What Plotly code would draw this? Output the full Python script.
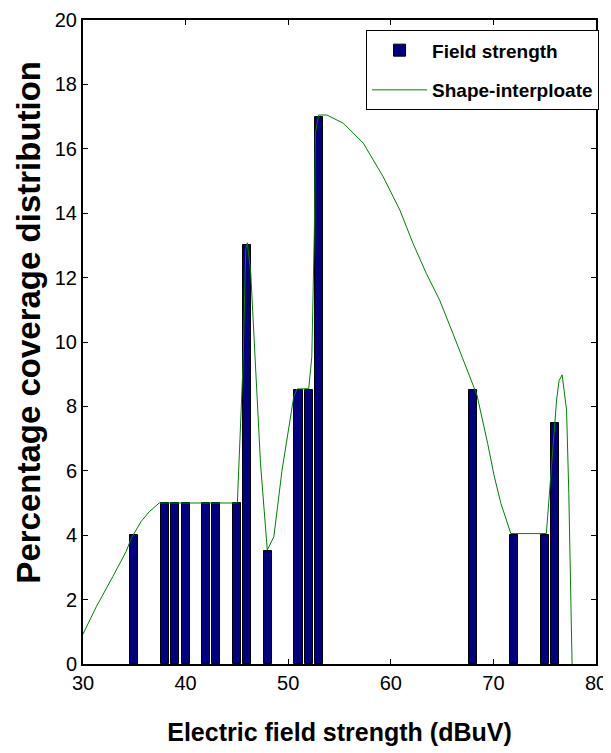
import plotly.graph_objects as go

# Bar data (histogram of electric field strength)
bar_x = [35, 38, 39, 40, 42, 43, 45, 46, 48, 51, 52, 53, 68, 72, 75, 76]
bar_y = [4, 5, 5, 5, 5, 5, 5, 13, 3.5, 8.5, 8.5, 17, 8.5, 4, 4, 7.5]

# Shape-interpolated curve
curve_x = [30, 31.3, 32.9, 34.2, 34.7, 35.65, 36.46, 37.43, 38.0, 44.9, 45.05, 45.6,
           45.86, 46.02, 46.35, 46.83, 47.3, 47.96, 48.6, 49.4, 50.06, 50.54, 50.86,
           52.0, 52.3, 52.55, 52.65, 52.97, 53.77, 55.39, 57.33, 59.26, 60.88, 62.17,
           63.46, 64.76, 66.05, 67.34, 68.4, 69.44, 70.09, 70.73, 71.7, 75.16, 75.74,
           76.16, 76.4, 76.7, 77.13, 77.35, 77.67]
curve_y = [0.93, 1.78, 2.71, 3.49, 3.9, 4.42, 4.73, 5.0, 5.0, 5.0, 5.04, 9.34,
           12.86, 13.08, 12.13, 9.34, 6.23, 3.54, 3.95, 6.02, 7.37, 8.3, 8.54,
           8.55, 9.54, 13.5, 16.48, 17.05, 17.05, 16.79, 16.17, 15.13, 14.1, 13.06,
           12.13, 11.3, 10.27, 9.23, 8.35, 6.85, 5.82, 4.99, 4.05, 4.05, 6.34,
           8.2, 8.8, 8.98, 7.89, 5.3, 0.0]

x_ticks = [30, 40, 50, 60, 70, 80]
y_ticks = [0, 2, 4, 6, 8, 10, 12, 14, 16, 18, 20]

SANS = "Liberation Sans, Arial, sans-serif"

fig = go.Figure()
fig.add_trace(go.Bar(
    x=bar_x, y=bar_y, width=0.8, name="<b>Field strength</b>", legendgroup="a",
    marker=dict(color="#000080", line=dict(color="black", width=1)),
))
fig.add_trace(go.Scatter(
    x=curve_x, y=curve_y, mode="lines", name="<b>Shape-interploate</b>", legendgroup="b",
    line=dict(color="#008000", width=1),
))

axis_common = dict(
    showline=True, linecolor="black", linewidth=2, mirror="ticks",
    ticks="inside", ticklen=5, tickcolor="black", showgrid=False, zeroline=False,
    automargin=False,
)
fig.update_layout(
    width=603, height=745,
    margin=dict(l=75, r=12, t=12, b=89),
    paper_bgcolor="white", plot_bgcolor="white",
    bargap=0,
    xaxis=dict(range=[30, 80], tickvals=x_ticks, ticktext=[str(v) for v in x_ticks],
               tickfont=dict(family=SANS, size=20, color="black"),
               title=dict(text="<b>Electric field strength (dBuV)</b>",
                          font=dict(family=SANS, size=25, color="black"), standoff=30),
               **axis_common),
    yaxis=dict(range=[0, 20], tickvals=y_ticks, ticktext=[str(v) for v in y_ticks],
               tickfont=dict(family=SANS, size=20, color="black"),
               **axis_common),
    annotations=[dict(
        text="<b>Percentage coverage distribution</b>", textangle=-90,
        xref="paper", yref="paper", x=-0.108, y=0.531, xanchor="center", yanchor="middle",
        showarrow=False, font=dict(family=SANS, size=33, color="black"),
    )],
    legend=dict(x=1.006, y=0.984, xanchor="right", yanchor="top",
                bordercolor="black", borderwidth=1, bgcolor="white",
                font=dict(family=SANS, size=19, color="black"),
                itemwidth=55, traceorder="grouped", tracegroupgap=12),
    showlegend=True,
)

fig.write_html("out.html")
